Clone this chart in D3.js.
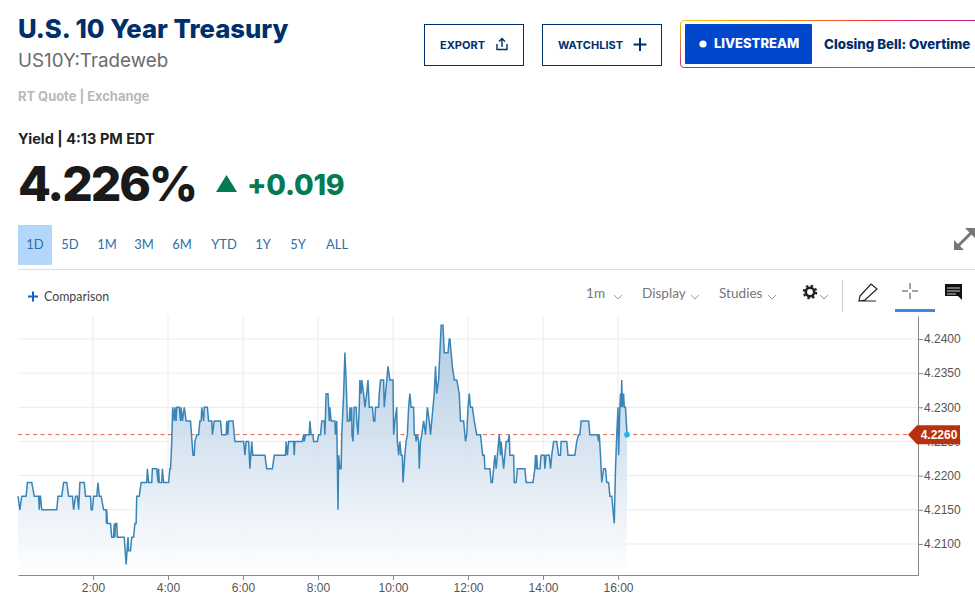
<!DOCTYPE html>
<html>
<head>
<meta charset="utf-8">
<script src="https://cdn.jsdelivr.net/npm/d3@7"></script>
<style>
  body { margin: 0; padding: 0; background: #fff; overflow: hidden; }
  svg { display: block; }
  text { font-family: Lato, sans-serif; }
  .axis text { font-family: "Liberation Sans", sans-serif; font-size: 12px; fill: #555; }
</style>
</head>
<body>
<svg id="chart" width="975" height="596"></svg>
<script>
// minutes after midnight and the yield at that minute
const minutes = [
  0,3,6,13,15,22,26,33,34,35,36,38,62,64,70,73,78,81,87,89,92,95,97,98,99,106,108,116,117,119,121,126,128,130,133,137,141,141.5,142,143,148,150,153,154,155,156,158,159,170,173,176,177,180,182,185,187,189,190,194,197,206,207,209,214,215,222,224,225,226,230,231,233,241,243,244,
  246,247.5,250,251,253,254,258,260,261,263,266,269,276,280,282,283,286,289,291,293,294,297,298,303,305,310,311,314,324,326,333,334,336,337,344,347,361,363,365,369,371,374,375.5,395,398,407,410,428,429,431,433,441,442,443,455,457,458,460,466,467,469,472,473,479,481,483,
  484,486,490,491,493,496,498,499,501,507,508,510,512,513,515,517,518,521,523,525,527,530,531,532,534,534.4,536,538,541,542,544,546,547,549,550,553,555,558,560,562,567,569,571,572,577,578,580,585,586,588,590,592,595,600,601,603,606,607,609,611,613,615,616,619,621,623,625,627,629,633,634,636,637,639,641,642,644,646,649,652,655,658,660,664,666,668,670,673,675,677,680,682,688,690,691,693,695,698,702,706,708,713,716,718,720,722,724,727,730,734,
  740,743.5,746,747,755,757,759,761,763,765,767,770,772,773,775,777,779,781,784,786,787,793,794,797,799,811,813,824,827,828,829,830,831,835,837,842,843,845,850,852,854,857,862,865,868,869,878,880,891,894,897,899,901,913,915,927,929,930,932,934,937,940,942,945,947,950,952,954,956,958,960,961,963,964,965,966,967,969,970,972,974.4
];
const yields = [
  4.217,4.215,4.217,4.217,4.219,4.219,4.217,4.217,4.215,4.217,4.217,4.215,4.215,4.217,4.217,4.219,4.219,4.217,4.217,4.215,4.217,4.217,4.215,4.217,4.219,4.219,4.217,4.217,4.215,4.215,4.217,4.217,4.219,4.217,4.217,4.215,4.215,4.213,4.215,4.213,4.213,4.211,4.211,4.213,4.211,4.213,4.213,4.211,4.211,4.207,4.211,4.209,4.209,4.211,4.211,4.213,4.213,4.217,4.217,4.219,4.219,4.221,4.219,4.219,4.221,4.221,4.219,4.221,4.219,4.219,4.221,4.219,4.219,4.221,4.221,
  4.225,4.230,4.228,4.230,4.228,4.230,4.230,4.228,4.230,4.228,4.230,4.228,4.228,4.223,4.223,4.225,4.226,4.226,4.228,4.228,4.230,4.228,4.230,4.230,4.228,4.228,4.226,4.228,4.228,4.226,4.226,4.228,4.226,4.228,4.228,4.225,4.225,4.223,4.225,4.225,4.221,4.225,4.223,4.223,4.221,4.221,4.223,4.223,4.225,4.223,4.225,4.225,4.223,4.225,4.225,4.226,4.225,4.226,4.226,4.228,4.226,4.226,4.225,4.225,4.226,4.226,
  4.226,4.228,4.228,4.226,4.232,4.232,4.228,4.230,4.228,4.228,4.226,4.228,4.215,4.223,4.221,4.221,4.226,4.232,4.238,4.234,4.228,4.228,4.230,4.228,4.230,4.226,4.225,4.230,4.230,4.228,4.226,4.230,4.234,4.232,4.234,4.232,4.230,4.232,4.234,4.230,4.230,4.228,4.228,4.230,4.230,4.232,4.234,4.234,4.230,4.232,4.234,4.236,4.234,4.234,4.226,4.228,4.230,4.225,4.223,4.225,4.223,4.223,4.219,4.223,4.225,4.226,4.230,4.232,4.230,4.230,4.226,4.226,4.225,4.226,4.225,4.221,4.225,4.226,4.228,4.226,4.230,4.228,4.226,4.230,4.232,4.236,4.232,4.234,4.238,4.242,4.242,4.238,4.238,4.240,4.240,4.238,4.236,4.234,4.234,4.232,4.228,4.228,4.225,4.226,4.230,4.232,4.230,4.230,4.228,4.226,
  4.226,4.223,4.223,4.221,4.221,4.219,4.219,4.221,4.223,4.221,4.223,4.226,4.223,4.225,4.223,4.221,4.223,4.225,4.225,4.226,4.223,4.223,4.219,4.219,4.221,4.221,4.219,4.219,4.221,4.223,4.221,4.223,4.221,4.221,4.223,4.223,4.221,4.223,4.223,4.221,4.223,4.225,4.225,4.223,4.223,4.225,4.225,4.223,4.223,4.225,4.226,4.226,4.228,4.228,4.226,4.226,4.225,4.226,4.223,4.219,4.221,4.221,4.219,4.219,4.217,4.217,4.215,4.213,4.221,4.226,4.230,4.223,4.230,4.232,4.230,4.234,4.230,4.232,4.230,4.230,4.226
];
const priceTicks = [4.21, 4.215, 4.22, 4.225, 4.23, 4.235, 4.24];
const hourTicks = [2, 4, 6, 8, 10, 12, 14, 16];
const lastYield = 4.226;
const ranges = ["1D", "5D", "1M", "3M", "6M", "YTD", "1Y", "5Y", "ALL"];
const rangeX = [35, 70, 107, 144, 182, 224, 263, 298, 337];

const svg = d3.select("#chart");
const navy = "#002f6c";

const plot = { left: 18, right: 918, top: 316, bottom: 575 };
const x = d3.scaleLinear().domain([0, 1440]).range([plot.left, plot.right]);
const y = d3.scaleLinear().domain([4.20546, 4.24336]).range([plot.bottom, plot.top]);

function label(txt, px, py, size, weight, color, family, anchor) {
  return svg.append("text").attr("x", px).attr("y", py).text(txt)
    .attr("font-size", size).attr("font-weight", weight).attr("fill", color)
    .style("font-family", family || "Lato, sans-serif")
    .attr("text-anchor", anchor || "start");
}

/* header */
label("U.S. 10 Year Treasury", 18, 38, 25.7, 800, navy, "Inter, sans-serif");
label("US10Y:Tradeweb", 18, 67, 18.8, 400, "#6b6b6b", "Inter, sans-serif");
label("RT Quote | Exchange", 18, 101, 12.9, 700, "#b9b9b9", "Inter, sans-serif");
label("Yield | 4:13 PM EDT", 18, 144, 14.5, 700, "#222", "Inter, sans-serif");
label("4.226%", 18, 201, 48, 800, "#1a1a1a", "Inter, sans-serif").attr("letter-spacing", -2.1);
svg.append("path").attr("d", "M216,192 L226.5,175 L237,192 Z").attr("fill", "#037b52");
label("+0.019", 247, 195, 28.5, 800, "#037b52", "Inter, sans-serif").attr("letter-spacing", -0.2);

/* buttons */
svg.append("rect").attr("x", 424.5).attr("y", 24.5).attr("width", 99).attr("height", 41)
  .attr("fill", "#fff").attr("stroke", navy);
label("EXPORT", 440, 49, 11, 700, navy, "Inter, sans-serif");
svg.append("path").attr("d", "M497,44 V49.5 H507 V44 M502,47 V39 M499,41.5 L502,38.5 L505,41.5")
  .attr("fill", "none").attr("stroke", navy).attr("stroke-width", 1.4);
svg.append("rect").attr("x", 542.5).attr("y", 24.5).attr("width", 119).attr("height", 41)
  .attr("fill", "#fff").attr("stroke", navy);
label("WATCHLIST", 558, 49, 11, 700, navy, "Inter, sans-serif");
svg.append("path").attr("d", "M640,38 V51 M633.5,44.5 H646.5").attr("stroke", navy).attr("stroke-width", 2);

const defs = svg.append("defs");
const topGrad = defs.append("linearGradient").attr("id", "frameTop").attr("gradientUnits", "userSpaceOnUse")
  .attr("x1", 681).attr("x2", 975).attr("y1", 0).attr("y2", 0);
[["0", "#fdc30f"], ["0.4", "#f7761a"], ["0.7", "#ee2a4a"], ["1", "#c0209a"]].forEach(s =>
  topGrad.append("stop").attr("offset", s[0]).attr("stop-color", s[1]));
const botGrad = defs.append("linearGradient").attr("id", "frameBottom").attr("gradientUnits", "userSpaceOnUse")
  .attr("x1", 681).attr("x2", 975).attr("y1", 0).attr("y2", 0);
[["0", "#c0307f"], ["0.3", "#5f5fc8"], ["0.65", "#0a96c0"], ["1", "#10a050"]].forEach(s =>
  botGrad.append("stop").attr("offset", s[0]).attr("stop-color", s[1]));
const sideGrad = defs.append("linearGradient").attr("id", "frameSide").attr("gradientUnits", "userSpaceOnUse")
  .attr("x1", 0).attr("x2", 0).attr("y1", 20).attr("y2", 67);
[["0", "#fdc30f"], ["1", "#c0307f"]].forEach(s =>
  sideGrad.append("stop").attr("offset", s[0]).attr("stop-color", s[1]));
svg.append("path").attr("d", "M684,20.5 H975").attr("fill", "none").attr("stroke", "url(#frameTop)");
svg.append("path").attr("d", "M684,67.5 H975").attr("fill", "none").attr("stroke", "url(#frameBottom)");
svg.append("path").attr("d", "M684,20.5 Q680.5,20.5 680.5,24 V64 Q680.5,67.5 684,67.5").attr("fill", "none").attr("stroke", "url(#frameSide)");
svg.append("rect").attr("x", 685).attr("y", 24).attr("width", 127).attr("height", 40).attr("rx", 1).attr("fill", "#0047cc");
svg.append("circle").attr("cx", 703).attr("cy", 44).attr("r", 3.6).attr("fill", "#fff");
label("LIVESTREAM", 714, 48, 13, 800, "#fff", "Inter, sans-serif");
label("Closing Bell: Overtime", 824, 49, 13.3, 800, navy, "Inter, sans-serif");

/* range selector */
svg.append("rect").attr("x", 18).attr("y", 225).attr("width", 34).attr("height", 40).attr("fill", "#b3d7fb");
svg.selectAll(".range").data(ranges).join("text").attr("class", "range")
  .attr("x", (d, i) => rangeX[i]).attr("y", 249).attr("text-anchor", "middle")
  .attr("font-size", 13).attr("fill", "#2f6ea5").style("font-family", "Lato, sans-serif").text(d => d);
svg.append("path").attr("d", "M958,246 L971,233").attr("stroke", "#777").attr("stroke-width", 3);
svg.append("path").attr("d", "M954,250 V240 L964,250 Z M975,228 V238 L965,228 Z").attr("fill", "#777");
svg.append("line").attr("x1", 18).attr("x2", 975).attr("y1", 269.5).attr("y2", 269.5).attr("stroke", "#ddd");

/* toolbar */
svg.append("path").attr("d", "M28,296.5 H38 M33,291.5 V301.5").attr("stroke", "#1f5fc4").attr("stroke-width", 2);
label("Comparison", 44, 301, 12.4, 400, "#444", "Lato, sans-serif");
[["1m", 586, 614], ["Display", 642, 691], ["Studies", 719, 768]].forEach(t => {
  label(t[0], t[1], 298, 13.6, 400, "#777", "Lato, sans-serif");
  svg.append("path").attr("d", `M${t[2]},295 l4,4 l4,-4`).attr("fill", "none").attr("stroke", "#999");
});
svg.append("circle").attr("cx", 810).attr("cy", 292).attr("r", 4.2).attr("fill", "none").attr("stroke", "#222").attr("stroke-width", 2.6);
svg.append("circle").attr("cx", 810).attr("cy", 292).attr("r", 6.2).attr("fill", "none").attr("stroke", "#222").attr("stroke-width", 2.2).attr("stroke-dasharray", "2.4 2.47");
svg.append("path").attr("d", "M820,295 l4,4 l4,-4").attr("fill", "none").attr("stroke", "#999");
svg.append("line").attr("x1", 842.5).attr("x2", 842.5).attr("y1", 280).attr("y2", 312).attr("stroke", "#ccc");
svg.append("path").attr("d", "M860,296 L871,284 L877,289 L865,300 L859,301 Z M859,301 H876")
  .attr("fill", "none").attr("stroke", "#222").attr("stroke-width", 1.2);
svg.append("path").attr("d", "M910,283 V289 M910,293 V299 M902,291 H908 M912,291 H918").attr("stroke", "#444");
svg.append("rect").attr("x", 895).attr("y", 309).attr("width", 40).attr("height", 3).attr("fill", "#3f86e8");
svg.append("path").attr("d", "M945,284 H962 V300 L958,296 H945 Z").attr("fill", "#111");
svg.append("path").attr("d", "M947,288 H960 M947,291 H960 M947,294 H956").attr("stroke", "#fff").attr("stroke-width", 0.8);

/* grid */
svg.append("g").selectAll("line").data(priceTicks).join("line")
  .attr("x1", plot.left).attr("x2", plot.right).attr("y1", d => y(d)).attr("y2", d => y(d))
  .attr("stroke", "#ececec");
svg.append("g").selectAll("line").data(hourTicks).join("line")
  .attr("x1", d => x(d * 60)).attr("x2", d => x(d * 60)).attr("y1", plot.top).attr("y2", plot.bottom)
  .attr("stroke", "#ececec");

/* last value dashes sit behind the area, so they fade inside it */
svg.append("line").attr("x1", plot.left).attr("x2", 908).attr("y1", y(lastYield)).attr("y2", y(lastYield))
  .attr("stroke", "#e0604f").attr("stroke-dasharray", "4 3.5");

/* area + line */
const points = minutes.map((m, i) => [m, yields[i]]);
const grad = defs.append("linearGradient").attr("id", "areaFill").attr("gradientUnits", "userSpaceOnUse")
  .attr("x1", 0).attr("x2", 0).attr("y1", plot.top).attr("y2", plot.bottom);
grad.append("stop").attr("offset", "0").attr("stop-color", "#a9c5e0").attr("stop-opacity", 0.93);
grad.append("stop").attr("offset", "1").attr("stop-color", "#ffffff").attr("stop-opacity", 0.93);
svg.append("path").datum(points)
  .attr("d", d3.area().x(d => x(d[0])).y0(plot.bottom).y1(d => y(d[1])))
  .attr("fill", "url(#areaFill)");
svg.append("path").datum(points)
  .attr("d", d3.line().x(d => x(d[0])).y(d => y(d[1])))
  .attr("fill", "none").attr("stroke", "#3a85b8").attr("stroke-width", 1.5);

/* axes */
const xAxis = d3.axisBottom(x).tickValues(hourTicks.map(h => h * 60)).tickSize(5).tickSizeOuter(0).tickPadding(3)
  .tickFormat(m => (m / 60) + ":00");
const yAxis = d3.axisRight(y).tickValues(priceTicks).tickSize(5).tickSizeOuter(0).tickPadding(1).tickFormat(d3.format(".4f"));
const gx = svg.append("g").attr("class", "axis").attr("transform", `translate(0,${plot.bottom})`).call(xAxis);
const gy = svg.append("g").attr("class", "axis").attr("transform", `translate(${plot.right},0)`).call(yAxis);
[gx, gy].forEach(g => {
  g.select(".domain").attr("stroke", "#888");
  g.selectAll(".tick line").attr("stroke", "#888");
});

/* last value marker and tag */
svg.append("circle").attr("cx", x(minutes[minutes.length - 1])).attr("cy", y(lastYield)).attr("r", 2.8).attr("fill", "#1fb6f0");
const tagY = y(lastYield);
svg.append("path")
  .attr("d", `M908,${tagY} L917,${tagY - 9.5} H960 V${tagY + 9.5} H917 Z`)
  .attr("fill", "#b8300e");
label(d3.format(".4f")(lastYield), 939, tagY + 4.5, 12, 700, "#fff", "Liberation Sans, sans-serif", "middle");
</script>
</body>
</html>
